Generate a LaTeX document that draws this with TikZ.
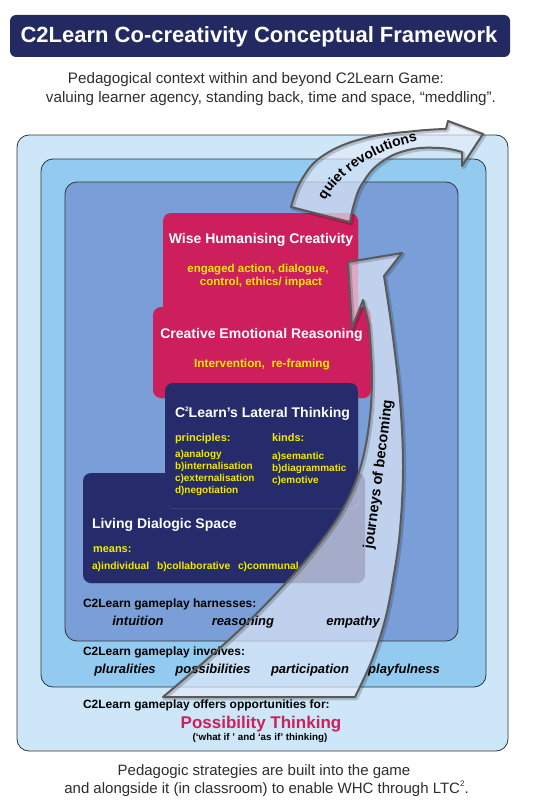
\documentclass[tikz,border=0pt]{standalone}
\usepackage{fontspec}
\setmainfont{Liberation Sans}
\usetikzlibrary{decorations.text,shadows}
\definecolor{navyT}{HTML}{232A62}
\definecolor{navyB}{HTML}{252B6B}
\definecolor{pinkB}{HTML}{CD1F5B}
\definecolor{boxA}{HTML}{CDE7F8}
\definecolor{boxB}{HTML}{93CAF0}
\definecolor{boxC}{HTML}{7A9FD8}
\definecolor{yel}{HTML}{F5E900}
\definecolor{arrowF}{HTML}{E2EAF8}
\definecolor{arrowL}{HTML}{5A5A5A}
\definecolor{subT}{HTML}{2E2E2E}
\newcommand\fs[1]{\fontsize{#1}{#1}\selectfont}
\newcommand\smalltwo[1]{\raisebox{0.42em}{\fs{#1}2}}
\newcommand\upperarrowpath{plot[smooth,tension=0.7] coordinates {(291,207) (302,179) (324,155) (365,138) (415,131) (446,129)} -- (448,121) -- (483,134) -- (462,166) -- (462,152) -- plot[smooth,tension=0.7] coordinates {(462,152) (440,148) (408,150) (380,163) (362,184) (354,204) (350,222)} -- cycle}
\newcommand\lowerarrowpath{plot[smooth,tension=0.6] coordinates {(163,697) (212,655) (250,620) (283,586) (311,554) (340,514) (359,472) (369,425) (372,375) (369,325)} -- (363,300) -- (352,328) -- (348,262) -- (402,253) -- (384,276) -- plot[smooth,tension=0.6] coordinates {(384,276) (392,330) (400,400) (403,467) (400,530) (393,580) (385,620) (372,660) (355,697)} -- cycle}
\begin{document}
\begin{tikzpicture}[x=1pt,y=-1pt,
  lbl/.style={inner sep=0pt, outer sep=0pt, anchor=base},
  lblw/.style={lbl, anchor=base west},
  frame/.style={draw=black!80, line width=0.8pt, rounded corners=12pt, inner sep=0pt, outer sep=0pt},
  cbox/.style={rounded corners=8pt, inner sep=0pt, outer sep=0pt, drop shadow={shadow xshift=1.2pt, shadow yshift=-1.2pt, opacity=0.3}},
  boxtitle/.style={text=white, font=\fs{14}\bfseries},
  ylw/.style={text=yel, font=\fs{11.5}\bfseries},
  ylws/.style={lblw, text=yel, font=\fs{10}\bfseries},
  gplay/.style={lblw, font=\fs{12}\bfseries},
  gword/.style={lbl, font=\fs{13}\bfseries\itshape},
  subtxt/.style={lbl, text=subT, font=\fs{15.2}},
  arrowfill/.style={fill=arrowF, fill opacity=0.68},
  arrowline/.style={draw=arrowL, line width=2pt, line join=round},
  arrowshadow/.style={draw=black, line width=3.5pt, opacity=0.18, line join=round}
]
\useasboundingbox (0,0) rectangle (533,808);
\fill[white] (0,0) rectangle (533,808);

% title
\node[fill=navyT, rounded corners=6pt, minimum width=500pt, minimum height=42pt, inner sep=0pt] (titlebox) at (260,36) {};
\node[lbl, text=white, font=\fs{22}\bfseries] (title) at (259,43) {C2Learn Co-creativity Conceptual Framework};
\node[subtxt] (sub1) at (256,83) {Pedagogical context within and beyond C2Learn Game:};
\node[subtxt] (sub2) at (271,102) {valuing learner agency, standing back, time and space, “meddling”.};

% nested frames
\node[frame, fill=boxA, minimum width=491pt, minimum height=616pt] (outer) at (262.5,443) {};
\node[frame, fill=boxB, minimum width=445pt, minimum height=528pt] (middle) at (263.5,423) {};
\node[frame, fill=boxC, minimum width=393pt, minimum height=459pt] (inner) at (261.5,411.5) {};

% content boxes
\node[cbox, fill=pinkB, minimum width=195pt, minimum height=117pt] (wise) at (260.5,271.5) {};
\node[lbl, boxtitle] (wiset) at (261,243) {Wise Humanising Creativity};
\node[lbl, ylw] (wise1) at (258,272) {engaged action, dialogue,};
\node[lbl, ylw] (wise2) at (261,285) {control, ethics/ impact};

\node[cbox, fill=pinkB, minimum width=218pt, minimum height=91pt] (cer) at (262,352.5) {};
\node[lbl, boxtitle] (cert) at (261.5,338) {Creative Emotional Reasoning};
\node[lbl, ylw, font=\fs{11.8}\bfseries] (cer1) at (262,367) {Intervention,~ re-framing};

\node[cbox, fill=navyB, minimum width=282pt, minimum height=110pt] (lds) at (224,528) {};
\node[lblw, boxtitle] (ldst) at (92,528) {Living Dialogic Space};
\node[lblw, text=yel, font=\fs{11}\bfseries] (means) at (93,552) {means:};
\node[ylws, font=\fs{10.3}\bfseries] (m1) at (92,569) {a)individual};
\node[ylws, font=\fs{10.3}\bfseries] (m2) at (157,569) {b)collaborative};
\node[ylws, font=\fs{10.3}\bfseries] (m3) at (238,569) {c)communal};

\node[cbox, fill=navyB, minimum width=193pt, minimum height=125pt] (ltc) at (261.5,445.5) {};
\node[lblw, boxtitle] (ltct) at (175,417) {C\smalltwo{6.5}Learn’s Lateral Thinking};
\node[lblw, text=yel, font=\fs{11}\bfseries] (princ) at (175,441) {principles:};
\node[lblw, text=yel, font=\fs{11}\bfseries] (kinds) at (272,441) {kinds:};
\node[ylws] (p1) at (175,457) {a)analogy};
\node[ylws] (p2) at (175,469) {b)internalisation};
\node[ylws] (p3) at (175,481) {c)externalisation};
\node[ylws] (p4) at (175,493) {d)negotiation};
\node[ylws] (k1) at (272,459) {a)semantic};
\node[ylws] (k2) at (272,471) {b)diagrammatic};
\node[ylws] (k3) at (272,483) {c)emotive};

% arrow fills
\fill[arrowfill] \lowerarrowpath;
\fill[arrowfill] \upperarrowpath;

% gameplay texts
\node[gplay] (harn) at (83,607) {C2Learn gameplay harnesses:};
\node[gword] (w1) at (138,625) {intuition};
\node[gword] (w2) at (243,625) {reasoning};
\node[gword] (w3) at (353,625) {empathy};
\node[gplay] (invo) at (83,655) {C2Learn gameplay involves:};
\node[gword] (v1) at (125,673) {pluralities};
\node[gword] (v2) at (213,673) {possibilities};
\node[gword] (v3) at (310,673) {participation};
\node[gword] (v4) at (404,673) {playfulness};
\node[gplay] (offers) at (83,708) {C2Learn gameplay offers opportunities for:};
\node[lbl, text=pinkB, font=\fs{17}\bfseries] (pt) at (261,728) {Possibility Thinking};
\node[lbl, font=\fs{9.8}\bfseries] (ptsub) at (260,740) {(‘what if ’ and ‘as if’ thinking)};

% arrow outlines
\begin{scope}[shift={(1.5,1.5)}]
\draw[arrowshadow] \lowerarrowpath;
\draw[arrowshadow] \upperarrowpath;
\end{scope}
\draw[arrowline] \lowerarrowpath;
\draw[arrowline] \upperarrowpath;

% arrow texts
\path[decorate, decoration={text along path, text align=center,
  text={|\fs{14}\bfseries|quiet revolutions}}]
  (322,206) .. controls (336,176) and (375,148) .. (424,140);
\path[decorate, decoration={text along path, text align=center,
  text={|\fs{14.5}\bfseries|journeys of becoming}}]
  (372,557) .. controls (379,505) and (387,445) .. (393,393);

% bottom text
\node[subtxt, font=\fs{15}] (bot1) at (264,775) {Pedagogic strategies are built into the game};
\node[subtxt, font=\fs{15}] (bot2) at (266.5,793) {and alongside it (in classroom) to enable WHC through LTC\smalltwo{8}.};
\end{tikzpicture}
\end{document}
